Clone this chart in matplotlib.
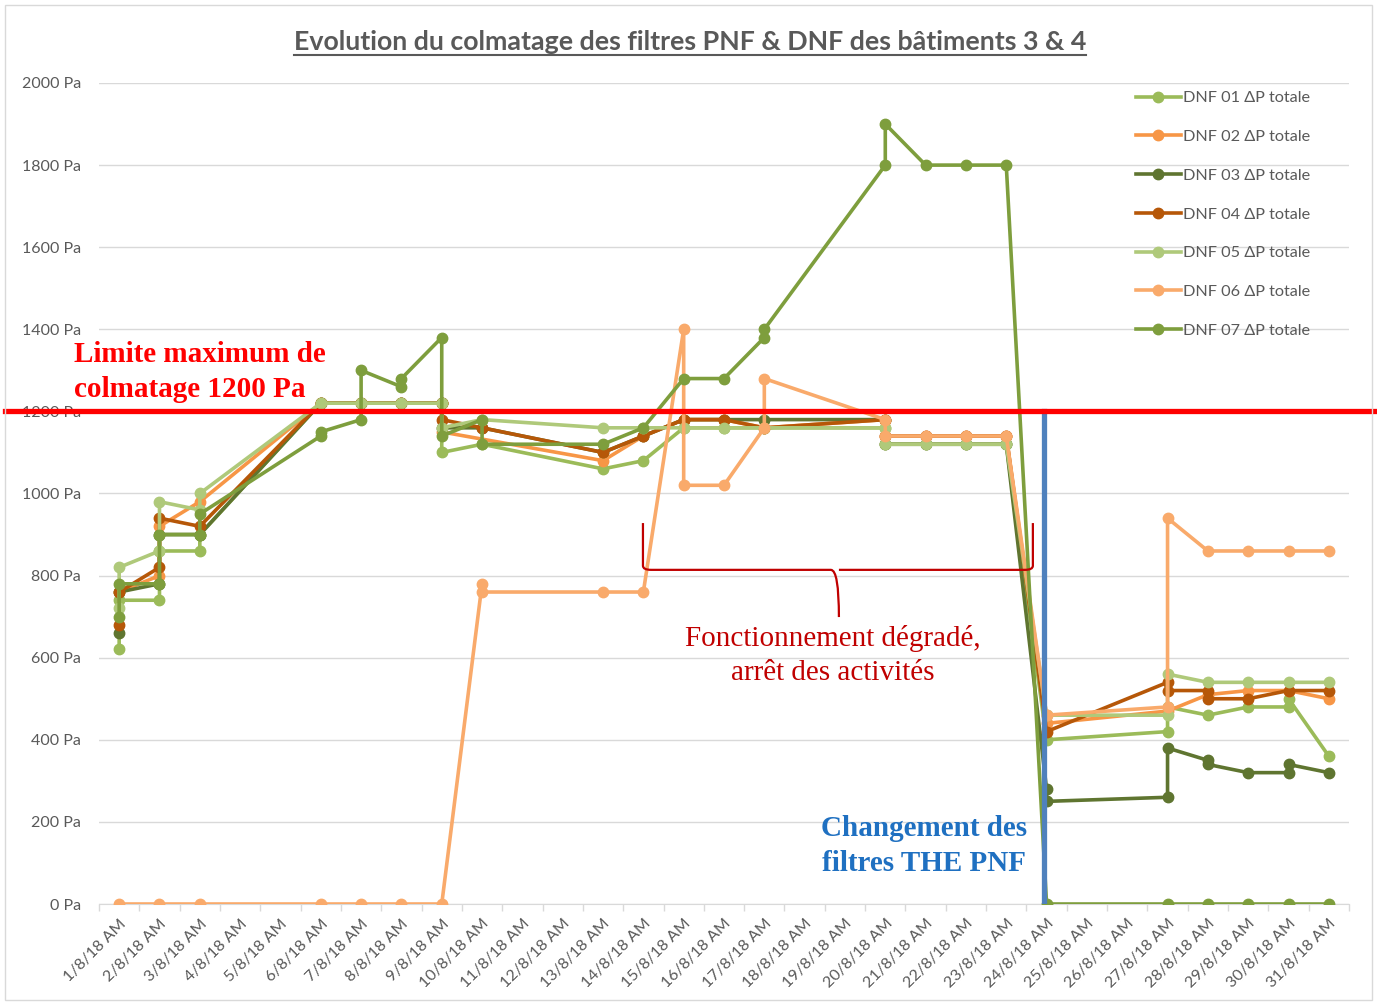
import matplotlib
matplotlib.use("Agg")
import matplotlib.pyplot as plt
import matplotlib.lines as mlines
import matplotlib.patches as mpatches
from matplotlib.path import Path
from matplotlib.transforms import blended_transform_factory

plt.rcParams['font.family'] = ['Lato', 'DejaVu Sans']

# days of August 2018 (category positions) and readings in Pa
day_labels = [str(d) + "/8/18 AM" for d in range(1, 32)]

dnf01_days = [1, 1, 2, 2, 3, 3, 6, 7, 8, 9, 9, 10, 13, 14, 15, 16, 17, 20, 20, 21, 22, 23,
              24, 27, 27, 28, 29, 30, 30, 31]
dnf01_vals = [620, 740, 740, 860, 860, 900, 1220, 1220, 1220, 1220, 1100, 1120, 1060, 1080,
              1160, 1160, 1160, 1160, 1120, 1120, 1120, 1120, 400, 420, 480, 460, 480, 480, 500, 360]

dnf02_days = [1, 2, 2, 3, 6, 7, 8, 9, 9, 13, 14, 15, 16, 17, 20, 20, 21, 22, 23, 24, 27, 28,
              29, 30, 31]
dnf02_vals = [760, 800, 920, 980, 1220, 1220, 1220, 1220, 1150, 1080, 1140, 1180, 1180, 1160,
              1180, 1140, 1140, 1140, 1140, 440, 470, 510, 520, 520, 500]

dnf03_days = [1, 1, 2, 2, 3, 6, 7, 8, 9, 9, 10, 13, 14, 15, 16, 17, 20, 20, 21, 22, 23, 24, 24,
              27, 27, 28, 28, 29, 30, 30, 31]
dnf03_vals = [660, 760, 780, 900, 900, 1220, 1220, 1220, 1220, 1160, 1160, 1100, 1140, 1180,
              1180, 1180, 1180, 1120, 1120, 1120, 1120, 280, 250, 260, 380, 350, 340, 320, 320,
              340, 320]

dnf04_days = [1, 1, 2, 2, 3, 6, 7, 8, 9, 9, 10, 13, 14, 15, 16, 17, 20, 20, 21, 22, 23, 24,
              27, 27, 28, 28, 29, 30, 31]
dnf04_vals = [680, 760, 820, 940, 920, 1220, 1220, 1220, 1220, 1180, 1160, 1100, 1140, 1180,
              1180, 1160, 1180, 1140, 1140, 1140, 1140, 420, 540, 520, 520, 500, 500, 520, 520]

dnf05_days = [1, 1, 2, 2, 3, 3, 6, 7, 8, 9, 9, 10, 13, 14, 15, 16, 17, 20, 20, 21, 22, 23,
              24, 27, 27, 28, 29, 30, 31]
dnf05_vals = [720, 820, 860, 980, 960, 1000, 1220, 1220, 1220, 1220, 1160, 1180, 1160, 1160,
              1160, 1160, 1160, 1160, 1120, 1120, 1120, 1120, 460, 460, 560, 540, 540, 540, 540]

dnf06_days = [1, 2, 3, 6, 7, 8, 9, 10, 10, 13, 14, 15, 15, 16, 17, 17, 20, 20, 21, 22, 23,
              24, 27, 27, 28, 29, 30, 31]
dnf06_vals = [0, 0, 0, 0, 0, 0, 0, 780, 760, 760, 760, 1400, 1020, 1020, 1160, 1280, 1180,
              1140, 1140, 1140, 1140, 460, 480, 940, 860, 860, 860, 860]

dnf07_days = [1, 1, 2, 2, 3, 3, 6, 6, 7, 7, 8, 8, 9, 9, 10, 10, 13, 14, 15, 16, 17, 17, 20,
              20, 21, 22, 23, 24, 27, 28, 29, 30, 31]
dnf07_vals = [700, 780, 780, 900, 900, 950, 1140, 1150, 1180, 1300, 1260, 1280, 1380, 1140,
              1180, 1120, 1120, 1160, 1280, 1280, 1380, 1400, 1800, 1900, 1800, 1800, 1800,
              0, 0, 0, 0, 0, 0]

series = [
    ("DNF 01 ΔP totale", dnf01_days, dnf01_vals, "#9BBB59"),
    ("DNF 02 ΔP totale", dnf02_days, dnf02_vals, "#F79646"),
    ("DNF 03 ΔP totale", dnf03_days, dnf03_vals, "#5F7530"),
    ("DNF 04 ΔP totale", dnf04_days, dnf04_vals, "#B65708"),
    ("DNF 05 ΔP totale", dnf05_days, dnf05_vals, "#AFC97A"),
    ("DNF 06 ΔP totale", dnf06_days, dnf06_vals, "#F9AA6B"),
    ("DNF 07 ΔP totale", dnf07_days, dnf07_vals, "#7E9E3D"),
]

limit_pa = 1200
filter_change_day = 23.93

W, H = 1377, 1005
fig = plt.figure(figsize=(W / 100, H / 100), dpi=100)
ax = fig.add_axes([99 / W, 1 - 904 / H, (1349 - 99) / W, (904 - 83) / H])

grey = "#595959"

for label, d, v, c in series:
    ax.plot(d, v, "-o", color=c, lw=2.6, ms=7.5, label=label, zorder=3)

ax.set_xlim(0.5, 31.5)
ax.set_ylim(0, 2000)
ax.set_yticks(range(0, 2001, 200))
ax.set_yticklabels([str(v) + " Pa" for v in range(0, 2001, 200)])
ax.set_xticks(range(1, 32))
ax.set_xticklabels(day_labels, rotation=45, ha="right", va="top", rotation_mode="anchor")
ax.set_xticks([i + 0.5 for i in range(0, 32)], minor=True)
ax.tick_params(axis="y", length=0, pad=13, labelsize=11.5, labelcolor=grey)
ax.tick_params(axis="x", which="major", length=0, pad=9, labelsize=11.5, labelcolor=grey)
ax.tick_params(axis="x", which="minor", length=5, color="#D9D9D9", width=1)
ax.grid(axis="y", color="#D9D9D9", lw=1)
ax.set_axisbelow(True)
for s in ["top", "right", "left"]:
    ax.spines[s].set_visible(False)
ax.spines["bottom"].set_color("#D9D9D9")

leg = ax.legend(loc="upper left", bbox_to_anchor=(1136 / W, 1 - 91 / H),
                bbox_transform=fig.transFigure, frameon=False, fontsize=11.7,
                handlelength=2.75, handletextpad=0.15, labelspacing=1.5,
                borderpad=0, borderaxespad=0)
for t in leg.get_texts():
    t.set_color(grey)

# 1200 Pa limit line runs across the whole chart
tr = blended_transform_factory(fig.transFigure, ax.transData)
ax.plot([5 / W, 1.0], [limit_pa, limit_pa], color="#FF0000", lw=3.8, transform=tr,
        clip_on=False, zorder=5)
fig.text(74 / W, 1 - 372 / H, "Limite maximum de\ncolmatage 1200 Pa", color="#FF0000",
         fontsize=21, weight="bold", family="Liberation Serif", ha="left", va="center",
         linespacing=1.38)

# filter change marker
ax.plot([filter_change_day, filter_change_day], [0, limit_pa], color="#4F81BD", lw=3.8,
        zorder=4)
fig.text(924 / W, 1 - 846 / H, "Changement des\nfiltres THE PNF", color="#1F70C1",
         fontsize=21, weight="bold", family="Liberation Serif", ha="center", va="center",
         linespacing=1.4)

# brace for degraded operation
bx0, bx1, bxm = 13.99, 23.66, 18.85
by_top, by_mid, by_tip = 928, 814, 699
verts = [(bx0, by_top), (bx0, by_mid + 10), (bx0, by_mid), (bx0 + 0.2, by_mid),
         (bxm - 0.2, by_mid), (bxm, by_mid), (bxm, by_tip),
         (bxm, by_mid), (bxm + 0.2, by_mid),
         (bx1 - 0.2, by_mid), (bx1, by_mid), (bx1, by_mid + 10), (bx1, by_top)]
codes = [Path.MOVETO, Path.LINETO, Path.CURVE3, Path.CURVE3,
         Path.LINETO, Path.CURVE3, Path.CURVE3,
         Path.MOVETO, Path.LINETO,
         Path.LINETO, Path.CURVE3, Path.CURVE3, Path.LINETO]
ax.add_patch(mpatches.PathPatch(Path(verts, codes), fill=False, ec="#C00000", lw=1.6,
                                zorder=4))
fig.text(833 / W, 1 - 655 / H, "Fonctionnement dégradé,\narrêt des activités",
         color="#C00000", fontsize=21, family="Liberation Serif", ha="center",
         va="center", linespacing=1.4)

title = fig.text(690 / W, 1 - 42 / H,
                 "Evolution du colmatage des filtres PNF & DNF des bâtiments 3 & 4",
                 color=grey, fontsize=19.3, weight="bold", ha="center", va="center")

# chart border
fig.add_artist(mpatches.Rectangle((5 / W, 5 / H), 1 - 10 / W, 1 - 10 / H,
                                  transform=fig.transFigure, fill=False,
                                  ec="#D9D9D9", lw=1))

# underline the title
fig.canvas.draw()
bb = title.get_window_extent(fig.canvas.get_renderer())
uy = (bb.y0 - 1) / H
fig.add_artist(mlines.Line2D([bb.x0 / W, bb.x1 / W], [uy, uy], color=grey, lw=1.5,
                             transform=fig.transFigure))

fig.savefig("out.png", dpi=100)
